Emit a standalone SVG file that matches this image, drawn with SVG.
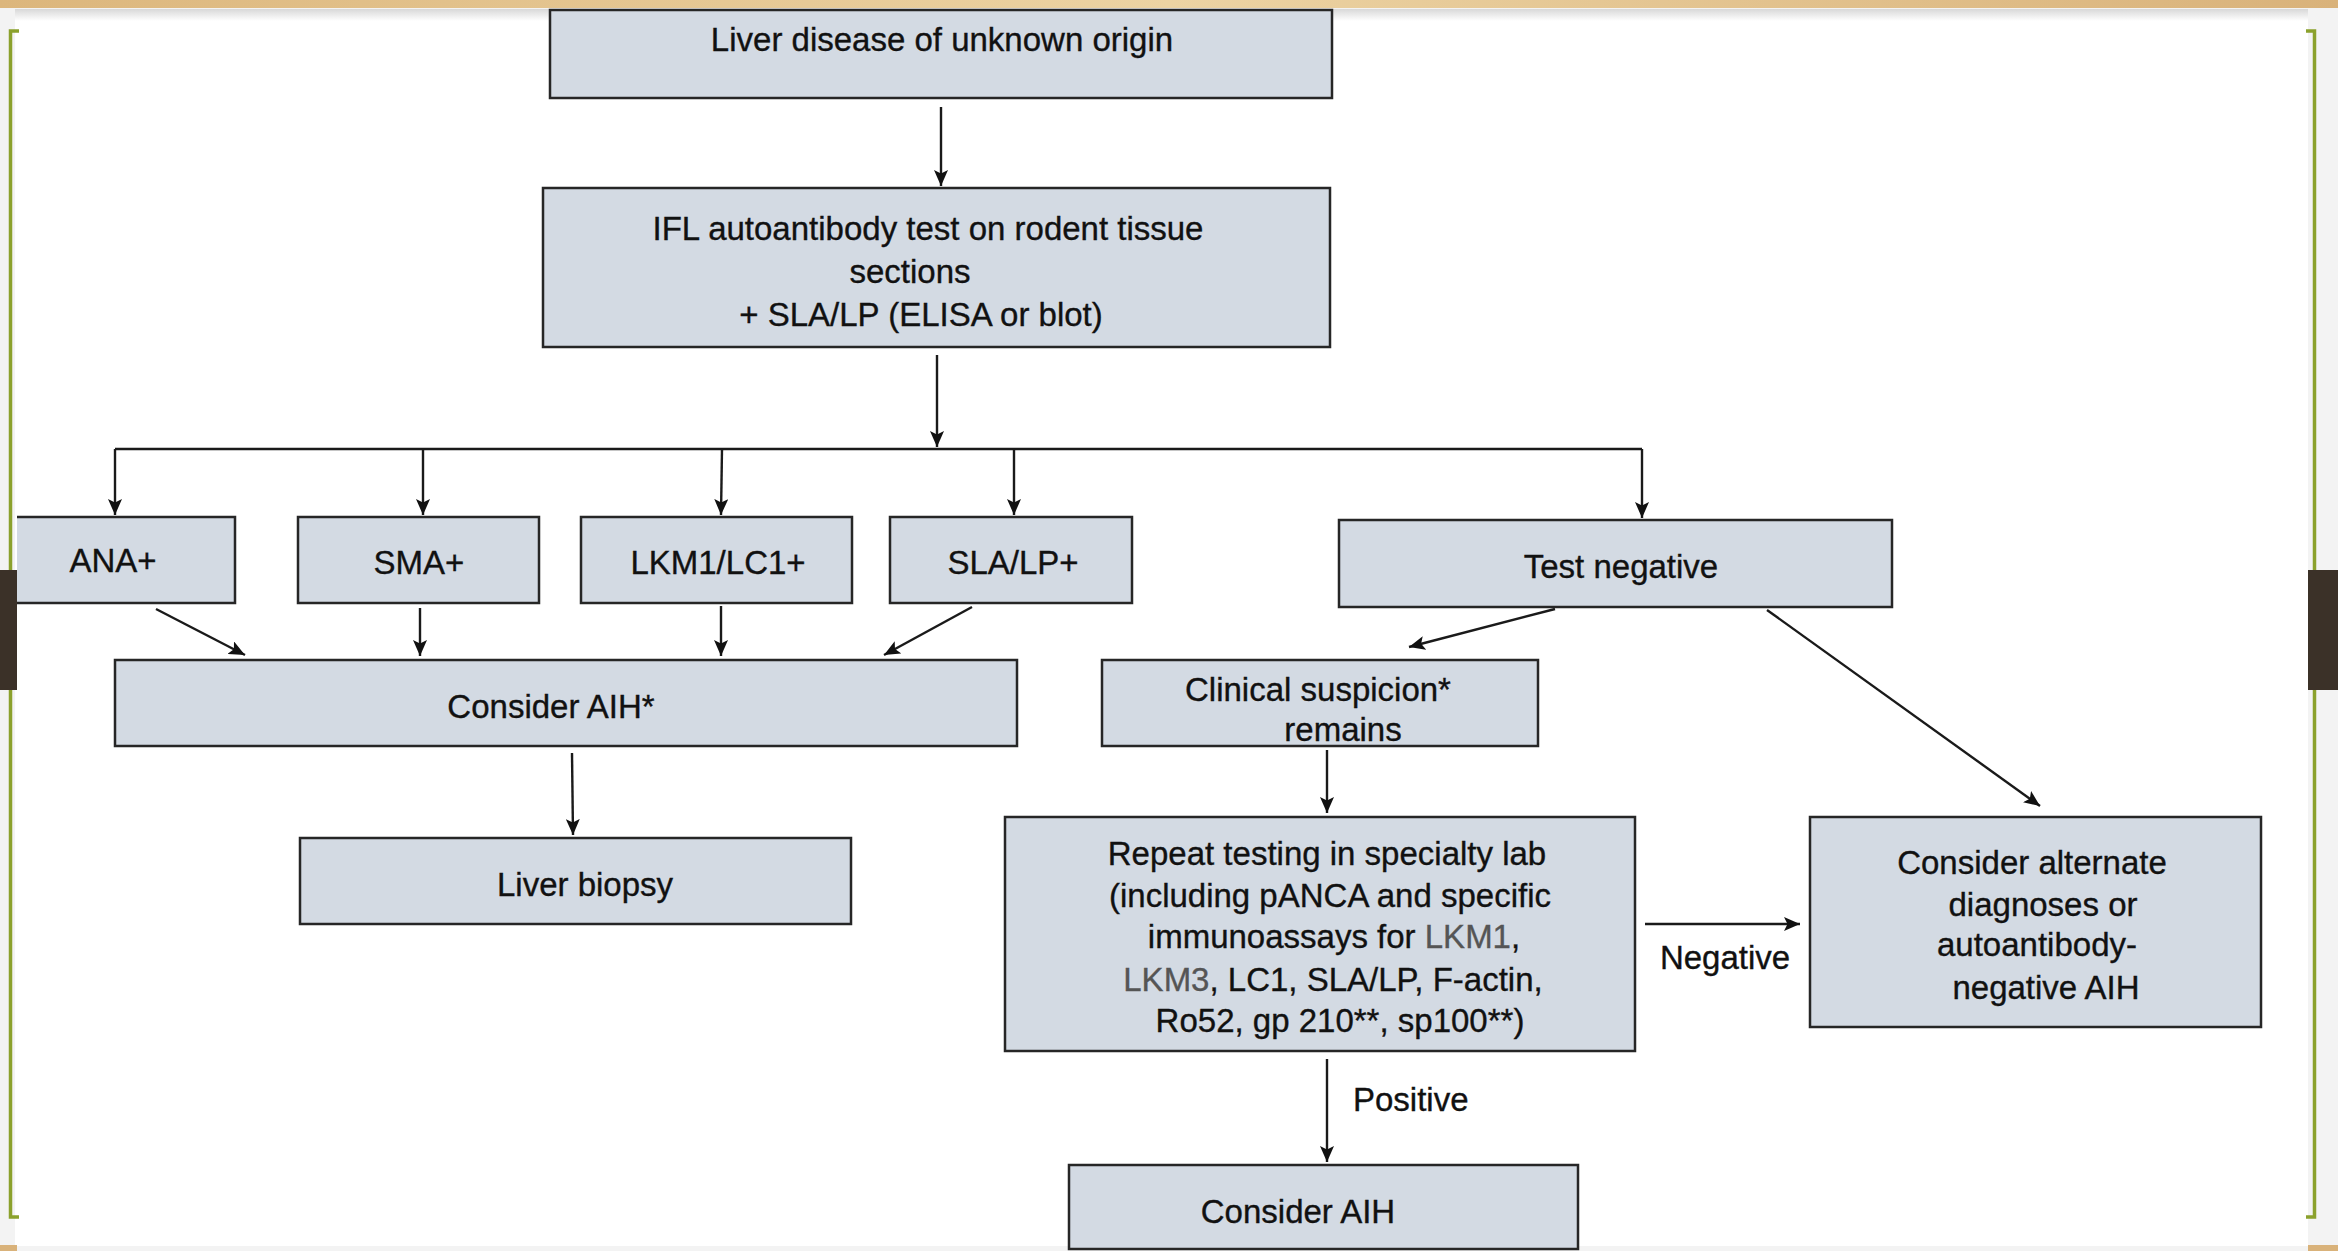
<svg xmlns="http://www.w3.org/2000/svg" width="2338" height="1251" viewBox="0 0 2338 1251">
<defs>
<style>
.box{fill:#d3dae3;stroke:#262626;stroke-width:2.5}
.t{font-family:"Liberation Sans",Arial,Helvetica,sans-serif;font-size:33px;fill:#111;stroke:#111;stroke-width:0.35;text-anchor:middle}
.s{text-anchor:start}
.g{fill:#555;stroke:#555}
.c{fill:none;stroke:#1a1a1a;stroke-width:2.4}
</style>
<marker id="ah" viewBox="0 0 16 14" markerWidth="16" markerHeight="14" refX="16" refY="7" orient="auto" markerUnits="userSpaceOnUse">
<path d="M0,0 L16,7 L0,14 L3.5,7 z" fill="#111"/>
</marker>
<linearGradient id="beige" x1="0" y1="0" x2="1" y2="0">
<stop offset="0" stop-color="#dcb67c"/>
<stop offset="0.5" stop-color="#ecd3a3"/>
<stop offset="1" stop-color="#d9b27a"/>
</linearGradient>
<linearGradient id="shadow" x1="0" y1="0" x2="0" y2="1">
<stop offset="0" stop-color="#d8d8d8"/>
<stop offset="1" stop-color="#ffffff"/>
</linearGradient>
</defs>
<g id="background">
<rect x="0" y="0" width="2338" height="1251" fill="#f3f3f3"/>
<rect x="15" y="9" width="2293" height="1237" fill="#ffffff"/>
<rect x="15" y="9" width="2293" height="12" fill="url(#shadow)"/>
<rect x="0" y="0" width="2338" height="8" fill="url(#beige)"/>
<rect x="0" y="1245" width="17" height="6" fill="#d9b27a"/>
<rect x="2308" y="1245" width="30" height="6" fill="#d9b27a"/>
</g>
<g id="connectors">
<line class="c" x1="941" y1="107" x2="941" y2="186" marker-end="url(#ah)"/>
<line class="c" x1="937" y1="355" x2="937" y2="447" marker-end="url(#ah)"/>
<line class="c" x1="115" y1="449" x2="1642" y2="449" stroke-width="2.8"/>
<line class="c" x1="115" y1="449" x2="115" y2="515" marker-end="url(#ah)"/>
<line class="c" x1="423" y1="449" x2="423" y2="515" marker-end="url(#ah)"/>
<line class="c" x1="722" y1="449" x2="721" y2="515" marker-end="url(#ah)"/>
<line class="c" x1="1014" y1="449" x2="1014" y2="515" marker-end="url(#ah)"/>
<line class="c" x1="1642" y1="449" x2="1642" y2="518" marker-end="url(#ah)"/>
<line class="c" x1="156" y1="609" x2="245" y2="655" marker-end="url(#ah)"/>
<line class="c" x1="420" y1="608" x2="420" y2="656" marker-end="url(#ah)"/>
<line class="c" x1="721" y1="606" x2="721" y2="656" marker-end="url(#ah)"/>
<line class="c" x1="972" y1="607" x2="884" y2="655" marker-end="url(#ah)"/>
<line class="c" x1="572" y1="753" x2="573" y2="835" marker-end="url(#ah)"/>
<line class="c" x1="1555" y1="609" x2="1409" y2="647" marker-end="url(#ah)"/>
<line class="c" x1="1767" y1="610" x2="2040" y2="806" marker-end="url(#ah)"/>
<line class="c" x1="1327" y1="750" x2="1327" y2="813" marker-end="url(#ah)"/>
<line class="c" x1="1645" y1="924" x2="1800" y2="924" marker-end="url(#ah)"/>
<line class="c" x1="1327" y1="1059" x2="1327" y2="1162" marker-end="url(#ah)"/>
<text class="t" x="1725" y="969">Negative</text>
<text class="t s" x="1353" y="1111">Positive</text>
</g>
<g id="n-liver-disease">
<rect class="box" x="550" y="10" width="782" height="88"/>
<text class="t" x="942" y="51">Liver disease of unknown origin</text>
</g>
<g id="n-ifl">
<rect class="box" x="543" y="188" width="787" height="159"/>
<text class="t" x="928" y="240">IFL autoantibody test on rodent tissue</text>
<text class="t" x="910" y="283">sections</text>
<text class="t" x="921" y="326">+ SLA/LP (ELISA or blot)</text>
</g>
<g id="n-ana">
<rect x="17" y="517" width="218" height="86" fill="#d3dae3"/>
<path d="M17,517 H235 V603 H17" fill="none" stroke="#262626" stroke-width="2.5"/>
<text class="t" x="113" y="572">ANA+</text>
</g>
<g id="n-sma">
<rect class="box" x="298" y="517" width="241" height="86"/>
<text class="t" x="419" y="574">SMA+</text>
</g>
<g id="n-lkm1">
<rect class="box" x="581" y="517" width="271" height="86"/>
<text class="t" x="718" y="574">LKM1/LC1+</text>
</g>
<g id="n-sla">
<rect class="box" x="890" y="517" width="242" height="86"/>
<text class="t" x="1013" y="574">SLA/LP+</text>
</g>
<g id="n-test-negative">
<rect class="box" x="1339" y="520" width="553" height="87"/>
<text class="t" x="1621" y="578">Test negative</text>
</g>
<g id="n-consider-aih-star">
<rect class="box" x="115" y="660" width="902" height="86"/>
<text class="t" x="551" y="718">Consider AIH*</text>
</g>
<g id="n-clinical">
<rect class="box" x="1102" y="660" width="436" height="86"/>
<text class="t" x="1318" y="701">Clinical suspicion*</text>
<text class="t" x="1343" y="741">remains</text>
</g>
<g id="n-liver-biopsy">
<rect class="box" x="300" y="838" width="551" height="86"/>
<text class="t" x="585" y="896">Liver biopsy</text>
</g>
<g id="n-repeat">
<rect class="box" x="1005" y="817" width="630" height="234"/>
<text class="t" x="1327" y="865">Repeat testing in specialty lab</text>
<text class="t" x="1330" y="907">(including pANCA and specific</text>
<text class="t" x="1334" y="948">immunoassays for <tspan class="g">LKM1</tspan>,</text>
<text class="t" x="1333" y="991"><tspan class="g">LKM3</tspan>, LC1, SLA/LP, F-actin,</text>
<text class="t" x="1340" y="1032">Ro52, gp 210**, sp100**)</text>
</g>
<g id="n-alternate">
<rect class="box" x="1810" y="817" width="451" height="210"/>
<text class="t" x="2032" y="874">Consider alternate</text>
<text class="t" x="2043" y="916">diagnoses or</text>
<text class="t" x="2037" y="956">autoantibody-</text>
<text class="t" x="2046" y="999">negative AIH</text>
</g>
<g id="n-consider-aih">
<rect class="box" x="1069" y="1165" width="509" height="84"/>
<text class="t" x="1298" y="1223">Consider AIH</text>
</g>
<g id="frame">
<path d="M19,31 H10.5 V1217 H19" fill="none" stroke="#8ba12c" stroke-width="3.5"/>
<path d="M2306,31 H2314.5 V1217 H2306" fill="none" stroke="#8ba12c" stroke-width="3.5"/>
<rect x="0" y="570" width="17" height="120" fill="#3b3128"/>
<rect x="2308" y="570" width="30" height="120" fill="#3b3128"/>
</g>
</svg>
